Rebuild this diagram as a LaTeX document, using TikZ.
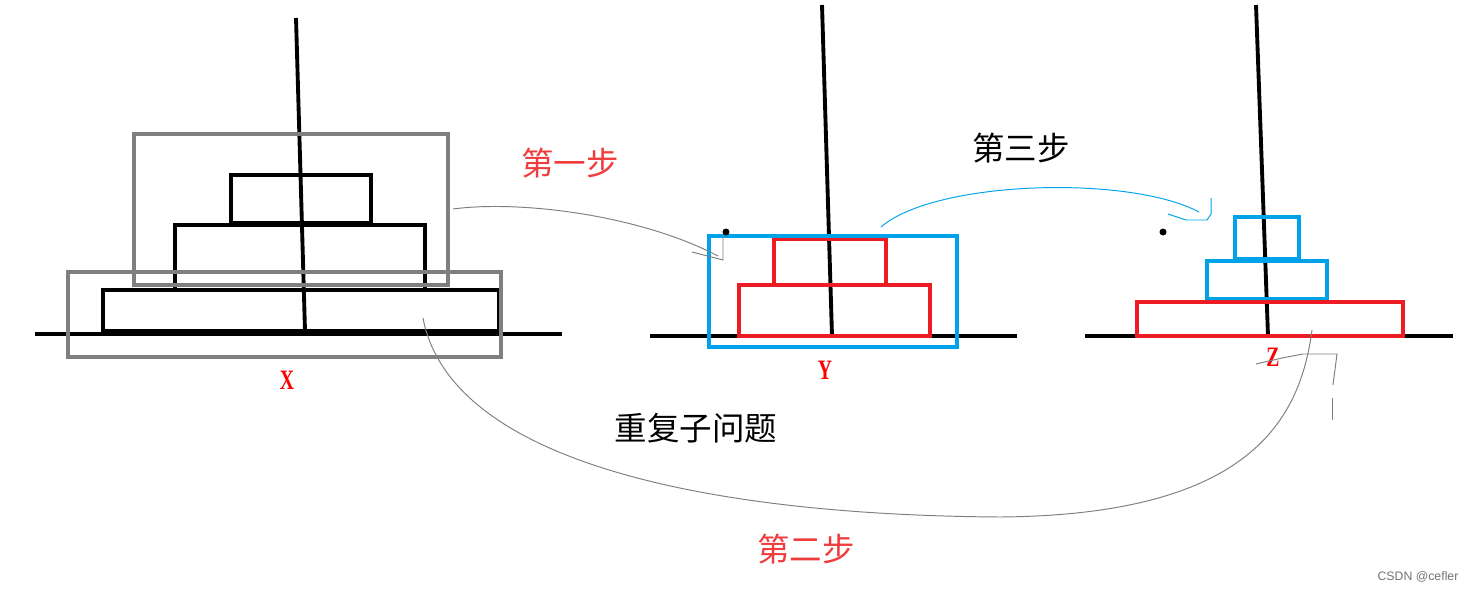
\documentclass[tikz,border=0pt]{standalone}
\usepackage{fontspec}
\newfontfamily\cjk{Noto Sans CJK SC}
\newfontfamily\creditfont{Liberation Sans}
\newfontfamily\pegfont{Liberation Serif}
\usetikzlibrary{positioning}
\definecolor{paintred}{HTML}{ED1C24}
\definecolor{paintblue}{HTML}{00A2E8}
\definecolor{boxgray}{HTML}{7F7F7F}
\definecolor{textred}{HTML}{F03C3C}
\begin{document}
\begin{tikzpicture}[
  x=0.02cm, y=-0.02cm,
  peg/.style={line width=2.2pt, black},
  disk/.style={line width=2.2pt},
  frame/.style={line width=2.2pt},
  steptext/.style={font=\cjk\fontsize{18.5}{20}\selectfont, inner sep=0pt},
  pegname/.style={font=\pegfont\fontsize{16}{17}\selectfont\bfseries, text=red, xscale=0.7, inner sep=0pt},
  hand/.style={line width=0.55pt}
]
  \useasboundingbox (0,0) rectangle (1469,591);

  \draw[peg] (35,334) -- (562,334);
  \draw[peg] (296,18) -- (305,331);
  \draw[disk] (231,175) rectangle (371,223);
  \draw[disk] (175,290) |- (425,225) -- (425,290);
  \draw[disk] (103,331) rectangle (499,290);
  \draw[line width=2.6pt] (103,332) -- (499,332);
  \draw[frame, boxgray] (134,134) rectangle (448,285);
  \draw[frame, boxgray] (68,272) rectangle (501,357);

  \draw[peg] (650,336) -- (1017,336);
  \draw[peg] (822,5) -- (832,336);
  \draw[disk, paintred] (774,285) |- (886,239) -- (886,285);
  \draw[disk, paintred] (739,285) rectangle (930,336);
  \draw[frame, paintblue] (709,236) rectangle (957,347);
  \fill (726,232) circle (3.5);

  \draw[peg] (1085,336) -- (1453,336);
  \draw[peg] (1256,5) -- (1268,336);
  \draw[disk, paintblue] (1235,217) rectangle (1299,259);
  \draw[disk, paintblue] (1207,261) rectangle (1327,299);
  \draw[disk, paintred] (1137,302) rectangle (1403,336);
  \fill (1163,232) circle (3.5);

  \node[pegname] (xname) at (287,380) {X};
  \node[pegname] (yname) at (825,370) {Y};
  \node[pegname] (zname) at (1273,357) {Z};

  \node[steptext, text=textred] (first) at (570,163) {第一步};
  \node[steptext] (third) at (1021,148) {第三步};
  \node[steptext] (repeat) at (696,428) {重复子问题};
  \node[steptext, text=textred] (second) at (806,549) {第二步};
  \node[font=\creditfont\fontsize{7}{8}\selectfont, text=black!55, inner sep=0pt] (credit) at (1418,577) {CSDN @cefler};

  \coordinate (onefrom) at (453,209);
  \coordinate (oneto) at (718,256);
  \coordinate (twofrom) at (423,318);
  \coordinate (twolow) at (1000,517);
  \coordinate (twoto) at (1312,330);
  \coordinate (threefrom) at (881,227);
  \coordinate (threeto) at (1199,212);

  \draw[hand, boxgray] (onefrom) .. controls (520,200) and (640,215) .. (oneto);
  \draw[hand, boxgray] (692,252) -- (723,260) -- (723,236);
  \draw[hand, boxgray] (twofrom) .. controls (450,460) and (700,515) .. (twolow)
    .. controls (1250,515) and (1300,420) .. (twoto);
  \draw[hand, boxgray] (1256,364) -- (1282,358) -- (1303,354) -- (1337,354) -- (1333,385);
  \draw[hand, boxgray] (1332,398) -- (1332,420);
  \draw[hand, paintblue] (threefrom) .. controls (935,180) and (1130,175) .. (threeto);
  \draw[hand, paintblue] (1168,214) -- (1186,220) -- (1207,220) -- (1211,214) -- (1211,198);
\end{tikzpicture}
\end{document}
